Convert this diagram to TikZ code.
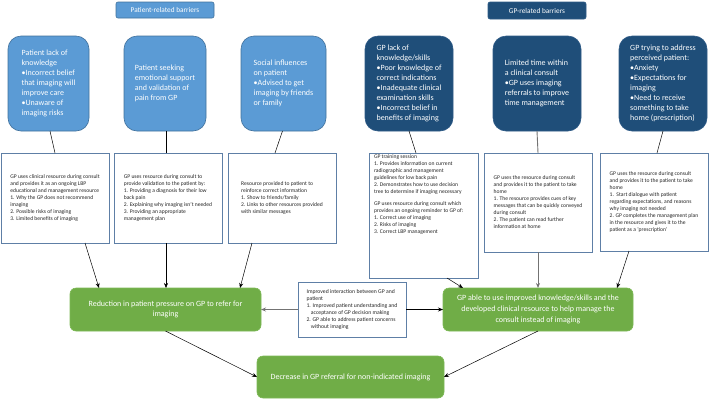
\documentclass[tikz,border=0pt]{standalone}
\usepackage{fontspec}
\setmainfont{Carlito}
\usetikzlibrary{arrows.meta}
\definecolor{pblue}{HTML}{5B9BD5}
\definecolor{pblueD}{HTML}{41719C}
\definecolor{gblue}{HTML}{1F4E79}
\definecolor{gblueD}{HTML}{2E5A86}
\definecolor{resD}{HTML}{5E7FA6}
\definecolor{ogreen}{HTML}{70AD47}
\definecolor{ogreenD}{HTML}{7DB956}
\definecolor{txt}{HTML}{262626}
\begin{document}
\begin{tikzpicture}[x=1pt,y=-1pt,
  every node/.style={inner sep=0pt,outer sep=0pt},
  hdr/.style={rectangle,rounded corners=2pt,minimum width=98pt,minimum height=16pt,text=white,font=\fontsize{7.3}{9}\selectfont,line width=0.6pt},
  topbox/.style={rectangle,rounded corners=13pt,text=white,align=left,font=\fontsize{8}{10}\selectfont,line width=0.6pt,minimum height=95pt},
  pstyle/.style={topbox,fill=pblue,draw=pblueD},
  gstyle/.style={topbox,fill=gblue,draw=gblueD},
  res/.style={rectangle,draw=resD,fill=white,line width=0.7pt,align=left,font=\fontsize{5.6}{7}\selectfont,text=txt,minimum width=108pt},
  outc/.style={rectangle,rounded corners=6pt,fill=ogreen,draw=ogreenD,line width=0.6pt,text=white,align=center,font=\fontsize{8}{10.6}\selectfont,minimum height=43pt},
  link/.style={draw=black,line width=0.5pt},
  glink/.style={draw=black!55,line width=0.9pt},
  tip/.style={-{Stealth[length=5pt,width=4pt]}}
]
\useasboundingbox (0,0) rectangle (709,400);

% headers
\node[hdr,fill=pblue,draw=pblueD] (hp) at (165,10) {Patient-related barriers};
\node[hdr,fill=gblue,draw=gblueD,minimum height=17pt] (hg) at (537,10.5) {GP-related barriers};

% top barrier boxes
\node[pstyle,minimum width=81pt] (b1) at (48.5,83.5) {Patient lack of\\knowledge\\•Incorrect belief\\that imaging will\\improve care\\•Unaware of\\imaging risks};
\node[pstyle,minimum width=82pt] (b2) at (165,83.5) {Patient seeking\\emotional support\\and validation of\\pain from GP};
\node[pstyle,minimum width=85pt] (b3) at (283.5,83.5) {Social influences\\on patient\\•Advised to get\\imaging by friends\\or family};
\node[gstyle,minimum width=88pt] (b4) at (409,83.5) {GP lack of\\knowledge/skills\\•Poor knowledge of\\correct indications\\•Inadequate clinical\\examination skills\\•Incorrect belief in\\benefits of imaging};
\node[gstyle,minimum width=88pt] (b5) at (537,83.5) {Limited time within\\a clinical consult\\•GP uses imaging\\referrals to improve\\time management};
\node[gstyle,minimum width=88pt] (b6) at (663,83.5) {GP trying to address\\perceived patient:\\•Anxiety\\•Expectations for\\imaging\\•Need to receive\\something to take\\home (prescription)};

% resource boxes
\node[res,minimum height=90pt] (ra) at (55,198) {GP uses clinical resource during consult\\and provides it as an ongoing LBP\\educational and management resource\\1. Why the GP does not recommend\\imaging\\2. Possible risks of imaging\\3. Limited benefits of imaging};
\node[res,minimum height=90pt] (rb) at (168,198) {GP uses resource during consult to\\provide validation to the patient by:\\1. Providing a diagnosis for their low\\back pain\\2. Explaining why imaging isn't needed\\3. Providing an appropriate\\management plan};
\node[res,minimum height=90pt] (rc) at (282,198) {Resource provided to patient to\\reinforce correct information\\1. Show to friends/family\\2. Links to other resources provided\\with similar messages};
\node[res,minimum width=109pt,minimum height=125pt] (rd) at (423.5,215.5) {};
\node[anchor=north west,align=left,font=\fontsize{5.6}{7}\selectfont,text=txt] (rdt) at ([shift={(5,2)}]rd.north west) {GP training session\\1. Provides information on current\\radiographic and management\\guidelines for low back pain\\2. Demonstrates how to use decision\\tree to determine if imaging necessary\\[5pt]GP uses resource during consult which\\provides an ongoing reminder to GP of:\\1. Correct use of imaging\\2. Risks of imaging\\3. Correct LBP management};
\node[res,minimum height=99pt] (re) at (538,202.5) {GP uses the resource during consult\\and provides it to the patient to take\\home\\1. The resource provides cues of key\\messages that can be quickly conveyed\\during consult\\2. The patient can read further\\information at home};
\node[res,minimum height=98pt] (rf) at (654,202) {GP uses the resource during consult\\and provides it to the patient to take\\home\\1.\ \ Start dialogue with patient\\regarding expectations, and reasons\\why imaging not needed\\2. GP completes the management plan\\in the resource and gives it to the\\patient as a `prescription'};

% outcomes
\node[outc,minimum width=191pt] (lg) at (165.5,309.5) {Reduction in patient pressure on GP to refer for\\imaging};
\node[outc,minimum width=190pt] (rg) at (538,309.5) {GP able to use improved knowledge/skills and the\\developed clinical resource to help manage the\\consult instead of imaging};
\node[res,minimum height=55pt,font=\fontsize{5.7}{7}\selectfont] (ib) at (352,309.5) {Improved interaction between GP and\\patient\\1. Improved patient understanding and\\\hspace*{0.75em}acceptance of GP decision making\\2. GP able to address patient concerns\\\hspace*{0.75em}without imaging};
\node[outc,minimum width=187pt,minimum height=42pt] (bg) at (350.5,377) {Decrease in GP referral for non-indicated imaging};

% barrier -> resource
\draw[link] ([xshift=1.5pt]b1.south) -- ([xshift=0pt]ra.north);
\draw[link] ([xshift=1pt]b2.south) -- ([xshift=-2pt]rb.north);
\draw[link] ([xshift=-1pt]b3.south) -- ([xshift=-7pt]rc.north);
\draw[link] (b4.south) -- ([xshift=-7.5pt]rd.north);
\draw[glink] (b5.south) -- (re.north);
\draw[link] (b6.south) -- ([xshift=3pt]rf.north);

% resource -> outcome
\draw[link,tip] ([xshift=30pt]ra.south) -- ([xshift=-66.5pt]lg.north);
\draw[link,tip] ([xshift=-2pt]rb.south) -- ([xshift=0.5pt]lg.north);
\draw[link,tip] ([xshift=-30pt]rc.south) -- ([xshift=74.5pt]lg.north);
\draw[link,tip] ([xshift=23.5pt]rd.south) -- ([xshift=-75pt]rg.north);
\draw[glink,tip] (re.south) -- (rg.north);
\draw[link,tip] ([xshift=-25pt]rf.south) -- ([xshift=79pt]rg.north);

% interaction -> outcomes
\draw[glink,tip] (ib.west) -- (lg.east);
\draw[link,tip] (ib.east) -- (rg.west);

% outcomes -> final
\draw[link,tip] (lg.south) -- (bg.west);
\draw[link,tip] (rg.south) -- (bg.east);
\end{tikzpicture}
\end{document}
